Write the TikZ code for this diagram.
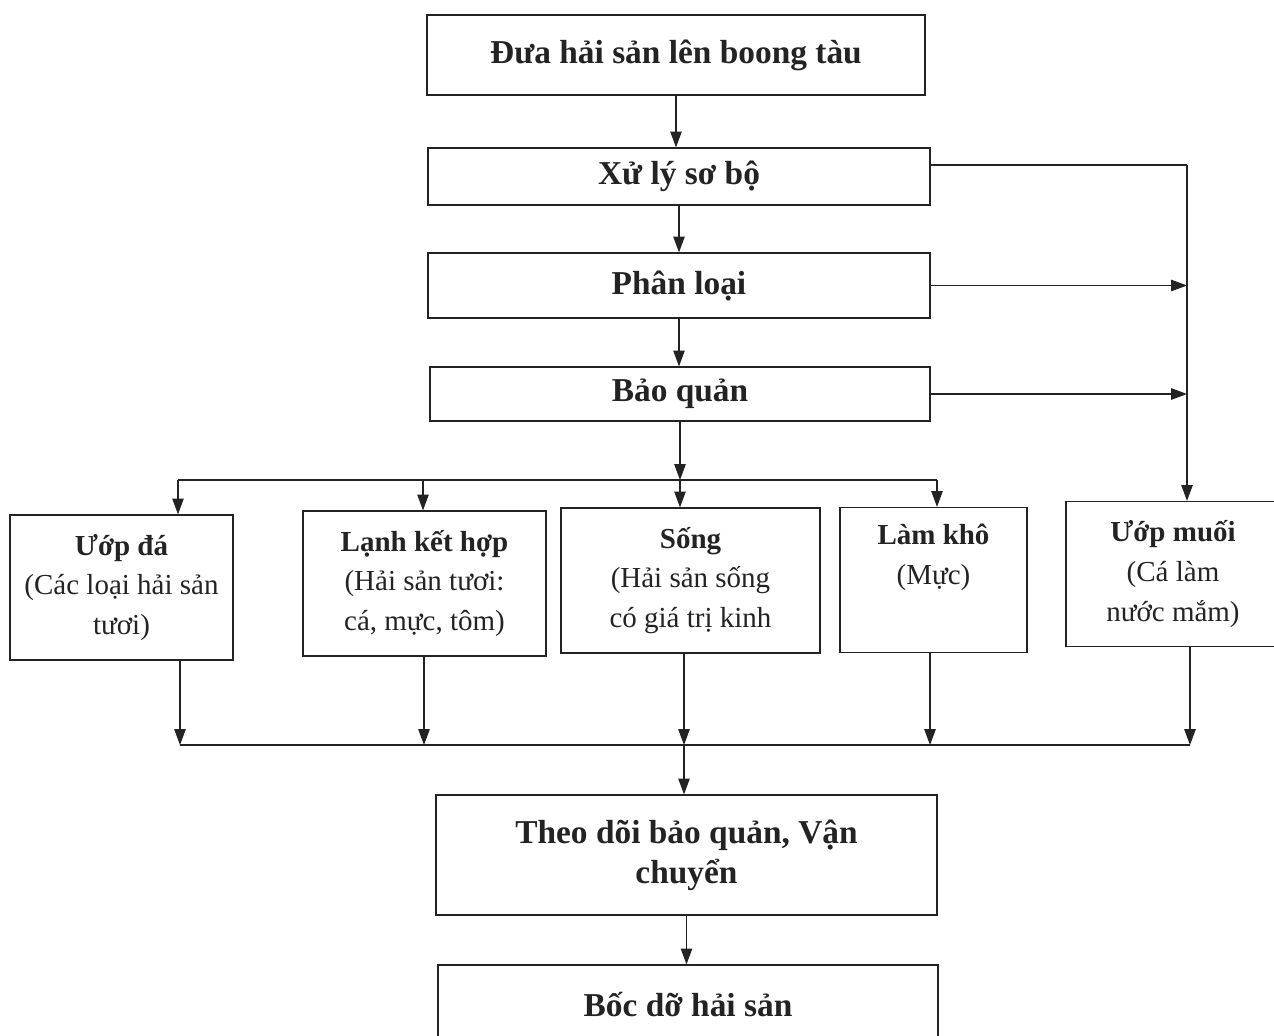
\documentclass[tikz,border=0pt]{standalone}
\usepackage{fontspec}
\setmainfont{Liberation Serif}
\usetikzlibrary{
  arrows.meta,
  positioning,
  calc
}
\definecolor{inkgray}{RGB}{35,35,35}

\begin{document}
\begin{tikzpicture}[
  bigbox/.style={draw=inkgray, line width=0.7pt, align=flush center, text=inkgray,
    font=\fontsize{19}{22.7}\selectfont\bfseries},
  rowbox/.style={draw=inkgray, line width=0.7pt, align=flush center, text=inkgray,
    inner xsep=0.1cm, inner ysep=2pt, minimum height=2.9cm,
    font=\fontsize{16.5}{22.7}\selectfont},
  flow/.style={draw=inkgray, line width=0.6pt, -{Triangle[length=9pt,width=6.5pt]}},
  link/.style={draw=inkgray, line width=0.6pt}
]
  \useasboundingbox (0,0) rectangle (25.48,-20.72);

  % main chain
  \node[bigbox, minimum width=9.96cm, minimum height=1.6cm] (board) at (13.52,-1.1) {Đưa hải sản lên boong tàu};
  \node[bigbox, minimum width=10.04cm, minimum height=1.14cm] (prep) at (13.58,-3.53) {Xử lý sơ bộ};
  \node[bigbox, minimum width=10.04cm, minimum height=1.3cm] (sort) at (13.58,-5.71) {Phân loại};
  \node[bigbox, minimum width=10.0cm, minimum height=1.08cm] (keep) at (13.6,-7.88) {Bảo quản};

  % storage methods
  \node[rowbox, text width=4.26cm] (ice) at (2.43,-11.75) {\textbf{Ướp đá}\\(Các loại hải sản\\tươi)};
  \node[rowbox, text width=4.66cm] (cold) at (8.49,-11.67) {\textbf{Lạnh kết hợp}\\(Hải sản tươi:\\cá, mực, tôm)};
  \node[rowbox, text width=4.98cm] (live) at (13.81,-11.61) {\textbf{Sống}\\(Hải sản sống\\có giá trị kinh};
  \node[rowbox, text width=3.54cm] (dry) at (18.67,-11.6) {\textbf{Làm khô}\\(Mực)\\\strut};
  \node[rowbox, text width=4.08cm] (salt) at (23.46,-11.48) {\textbf{Ướp muối}\\(Cá làm\\nước mắm)};

  % transport and unloading
  \node[bigbox, minimum width=10.02cm, minimum height=2.4cm] (watch) at (13.73,-17.1) {Theo dõi bảo quản, Vận\\chuyển};
  \node[bigbox, minimum width=10.0cm, minimum height=1.6cm] (unload) at (13.76,-20.1) {Bốc dỡ hải sản};

  % fork and join points
  \coordinate (fork) at (13.6,-9.6);
  \coordinate (rail) at (23.74,-3.3);
  \coordinate (join) at (13.68,-14.9);

  \draw[flow] (board.south) -- (board.south |- prep.north);
  \draw[flow] (prep.south) -- (prep.south |- sort.north);
  \draw[flow] (sort.south) -- (sort.south |- keep.north);
  \draw[flow] (keep.south) -- (fork);

  \draw[link] (3.56,-9.6) -- (18.74,-9.6);
  \draw[flow] (3.56,-9.6) -- (3.56,-9.6 |- ice.north);
  \draw[flow] (8.46,-9.6) -- (8.46,-9.6 |- cold.north);
  \draw[flow] (fork) -- (fork |- live.north);
  \draw[flow] (18.74,-9.6) -- (18.74,-9.6 |- dry.north);

  \draw[link] (prep.east |- rail) -- (rail);
  \draw[flow] (rail) -- (rail |- salt.north);
  \draw[flow] (sort.east) -- (sort.east -| rail);
  \draw[flow] (keep.east) -- (keep.east -| rail);

  \draw[flow] (3.6,-11.75 |- ice.south) -- (3.6,-14.9);
  \draw[flow] (8.48,-11.67 |- cold.south) -- (8.48,-14.9);
  \draw[flow] (join |- live.south) -- (join);
  \draw[flow] (18.6,-11.6 |- dry.south) -- (18.6,-14.9);
  \draw[flow] (23.8,-11.48 |- salt.south) -- (23.8,-14.9);
  \draw[link] (3.6,-14.9) -- (23.8,-14.9);

  \draw[flow] (join) -- (join |- watch.north);
  \draw[flow] (watch.south) -- (watch.south |- unload.north);
\end{tikzpicture}
\end{document}
